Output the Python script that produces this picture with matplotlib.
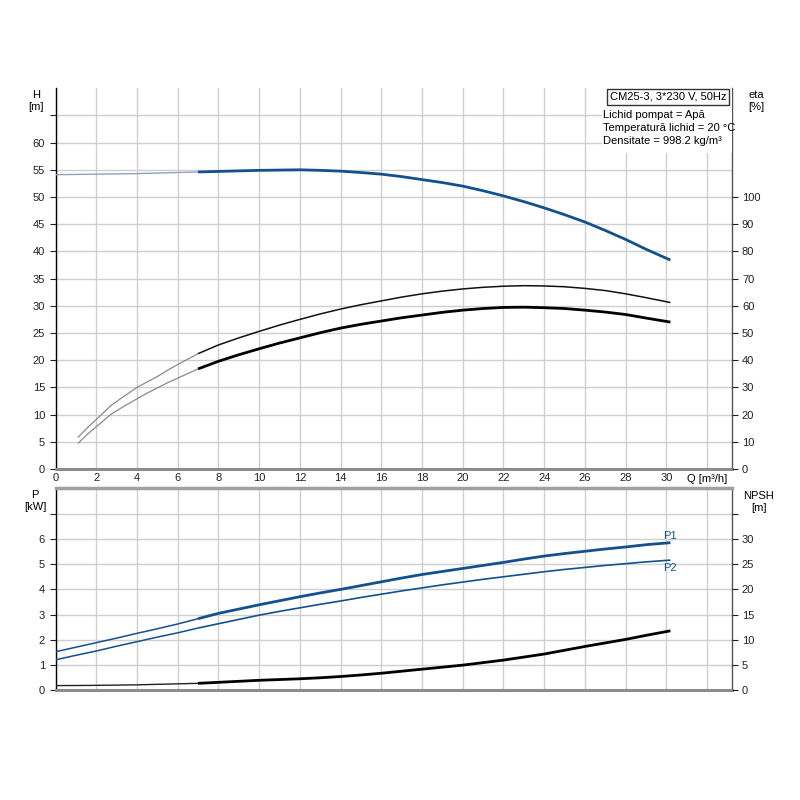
import matplotlib
matplotlib.use("Agg")
import matplotlib.pyplot as plt
import numpy as np
from matplotlib.patches import Rectangle

plt.rcParams['font.family'] = ['Liberation Sans', 'DejaVu Sans']
plt.rcParams['font.size'] = 8

# ---- data ----
q_h = [0, 1, 2, 3, 4, 5, 6, 7, 8, 9, 10, 11, 12, 13, 14, 15, 16, 17, 18, 19, 20,
       21, 22, 23, 24, 25, 26, 27, 28, 29, 30.2]
head = [54.1, 54.15, 54.2, 54.25, 54.3, 54.4, 54.5, 54.6, 54.7, 54.8, 54.9, 54.95, 55.0,
        54.9, 54.75, 54.5, 54.2, 53.75, 53.2, 52.65, 52.0, 51.15, 50.2, 49.15, 48.0,
        46.75, 45.4, 43.85, 42.2, 40.4, 38.4]

q_eta = [1.1, 1.6, 2.2, 2.7, 3.3, 4, 4.5, 5, 5.5, 6, 7, 8, 9, 10, 11, 12, 13, 14, 15, 16,
         17, 18, 19, 20, 21, 22, 23, 24, 25, 26, 27, 28, 29, 30.2]
eta_upper = [11.6, 15.4, 19.6, 23.2, 26.4, 30.0, 32.0, 34.0, 36.3, 38.4, 42.4, 45.6, 48.2,
             50.6, 52.9, 55.0, 57.0, 58.8, 60.4, 61.8, 63.2, 64.4, 65.4, 66.2, 66.8, 67.2,
             67.4, 67.3, 67.0, 66.4, 65.6, 64.4, 63.0, 61.2]
eta_lower = [9.4, 13.0, 16.8, 20.0, 22.8, 25.8, 27.9, 29.8, 31.7, 33.4, 36.8, 39.6, 42.0,
             44.2, 46.3, 48.2, 50.1, 51.8, 53.2, 54.4, 55.6, 56.6, 57.6, 58.4, 59.0, 59.4,
             59.5, 59.3, 59.0, 58.4, 57.7, 56.8, 55.5, 54.0]

q_p = [0, 1, 2, 3, 4, 5, 6, 7, 8, 9, 10, 11, 12, 13, 14, 15, 16, 17, 18, 19, 20,
       21, 22, 23, 24, 25, 26, 27, 28, 29, 30.2]
p1 = [1.53, 1.71, 1.89, 2.07, 2.26, 2.44, 2.63, 2.84, 3.05, 3.22, 3.39, 3.55, 3.71, 3.86,
      4.0, 4.15, 4.30, 4.45, 4.59, 4.71, 4.83, 4.95, 5.07, 5.20, 5.32, 5.42, 5.51, 5.60,
      5.68, 5.77, 5.85]
p2 = [1.21, 1.39, 1.56, 1.75, 1.93, 2.11, 2.28, 2.47, 2.64, 2.81, 2.98, 3.13, 3.27, 3.41,
      3.54, 3.68, 3.81, 3.94, 4.06, 4.18, 4.29, 4.40, 4.50, 4.60, 4.70, 4.79, 4.87, 4.95,
      5.02, 5.09, 5.16]
npsh = [0.95, 0.97, 1.0, 1.05, 1.1, 1.2, 1.3, 1.4, 1.6, 1.8, 2.0, 2.15, 2.3, 2.5, 2.75,
        3.05, 3.4, 3.8, 4.2, 4.6, 5.0, 5.5, 6.0, 6.6, 7.2, 7.95, 8.7, 9.4, 10.1, 10.9, 11.8]

x_ticks = list(range(0, 33, 2))
x_labels = [str(v) for v in range(0, 31, 2)] + ['']
h_ticks = list(range(0, 70, 5))
h_labels = [str(v) for v in range(0, 61, 5)] + ['']
eta_ticks = list(range(0, 101, 10))
p_ticks = list(range(0, 8))
p_labels = [str(v) for v in range(0, 7)] + ['']
npsh_ticks = list(range(0, 36, 5))
npsh_labels = [str(v) for v in range(0, 31, 5)] + ['']

info_title = "CM25-3, 3*230 V, 50Hz"
info_lines = ["Lichid pompat = Apă", "Temperatură lichid = 20 °C", "Densitate = 998.2 kg/m³"]

BLUE = '#12518e'
LIGHTBLUE = '#8fa3bf'
GRAY = '#8a8a8a'
GRID = '#cfcfcf'
SPLIT = 7
XMAX = 33.2

def split_plot(ax, q, v, color_thin, color_thick, lw_thin, lw_thick):
    q = np.asarray(q, float); v = np.asarray(v, float)
    m1 = q <= SPLIT
    m2 = q >= SPLIT
    ax.plot(q[m1], v[m1], color=color_thin, lw=lw_thin, zorder=4, solid_capstyle='butt')
    ax.plot(q[m2], v[m2], color=color_thick, lw=lw_thick, zorder=4, solid_capstyle='butt',
            solid_joinstyle='round')

fig = plt.figure(figsize=(8, 8), dpi=100)

L, W = 0.0694, 0.845
ax1 = fig.add_axes([L, 0.41375, W, 0.476])
ax2 = fig.add_axes([L, 0.137, W, 0.2525])

for ax in (ax1, ax2):
    ax.set_xlim(0, XMAX)
    ax.set_xticks(x_ticks)
    ax.grid(True, color=GRID, lw=1, zorder=0)
    ax.set_axisbelow(True)
    ax.tick_params(axis='both', direction='out', length=4, width=0.8, colors='#222222', labelsize=8)
    ax.tick_params(axis='x', length=0)
    ax.spines['left'].set_color('black')
    ax.spines['left'].set_linewidth(1)
    ax.spines['bottom'].set_color('#8c8c8c')
    ax.spines['bottom'].set_linewidth(2.2)
    ax.spines['right'].set_color('#555555')
    ax.spines['right'].set_linewidth(1)

ax1.spines['top'].set_visible(False)
ax2.spines['top'].set_color('#a0a0a0')
ax2.spines['top'].set_linewidth(2.5)

ax1.set_ylim(0, 70)
ax1.set_yticks(h_ticks)
ax1.set_yticklabels(h_labels)
ax1.set_xticklabels(x_labels)
ax1.tick_params(axis='x', pad=3)

ax2.set_ylim(0, 8)
ax2.set_yticks(p_ticks)
ax2.set_yticklabels(p_labels)
ax2.set_xticklabels([])

ax1r = ax1.twinx()
ax1r.set_ylim(0, 140)
ax1r.set_yticks(eta_ticks)
ax1r.tick_params(axis='y', direction='out', length=4, width=0.8, colors='#222222', labelsize=8)
for s in ax1r.spines.values():
    s.set_visible(False)

ax2r = ax2.twinx()
ax2r.set_ylim(0, 40)
ax2r.set_yticks(npsh_ticks)
ax2r.set_yticklabels(npsh_labels)
ax2r.tick_params(axis='y', direction='out', length=4, width=0.8, colors='#222222', labelsize=8)
for s in ax2r.spines.values():
    s.set_visible(False)

# curves top
split_plot(ax1, q_h, head, LIGHTBLUE, BLUE, 1.0, 2.0)
split_plot(ax1r, q_eta, eta_upper, GRAY, '#111111', 0.9, 1.1)
split_plot(ax1r, q_eta, eta_lower, GRAY, '#000000', 0.9, 2.0)

# curves bottom
split_plot(ax2, q_p, p1, BLUE, BLUE, 1.1, 2.0)
split_plot(ax2, q_p, p2, BLUE, BLUE, 1.1, 1.2)
split_plot(ax2r, q_p, npsh, '#222222', '#000000', 1.0, 2.0)

ax2.text(q_p[-1], p1[-1] + 0.08, 'P1', ha='center', va='bottom', fontsize=8, color='#12518e')
ax2.text(q_p[-1], p2[-1] - 0.12, 'P2', ha='center', va='top', fontsize=8, color='#12518e')

# axis labels
fig.text(36 / 800, 1 - 101 / 800, 'H\n[m]', ha='center', va='center', fontsize=8, linespacing=1.25)
fig.text(756 / 800, 1 - 101 / 800, 'eta\n[%]', ha='center', va='center', fontsize=8, linespacing=1.25)
fig.text(35 / 800, 1 - 501 / 800, 'P\n[kW]', ha='center', va='center', fontsize=8, linespacing=1.25)
fig.text(759 / 800, 1 - 502 / 800, 'NPSH\n[m]', ha='center', va='center', fontsize=8, linespacing=1.25)
ax1.text(32, -1.0, 'Q [m³/h]', ha='center', va='top', fontsize=8)

# info box
x0 = (602 - 55.5) / 676.2 * XMAX
ax1.add_patch(Rectangle((x0, 58.0), XMAX - x0, 70 - 58.0, facecolor='white', edgecolor='none',
                        zorder=3, clip_on=False))
ax1.text(32.95, 68.4, info_title, ha='right', va='center', fontsize=8, zorder=5,
         bbox=dict(boxstyle='square,pad=0.25', facecolor='white', edgecolor='#333333', linewidth=1))
for i, line in enumerate(info_lines):
    ax1.text(x0 + 0.05, 65.1 - i * 2.4, line, ha='left', va='center', fontsize=8, zorder=5)

fig.savefig('out.png', dpi=100)
